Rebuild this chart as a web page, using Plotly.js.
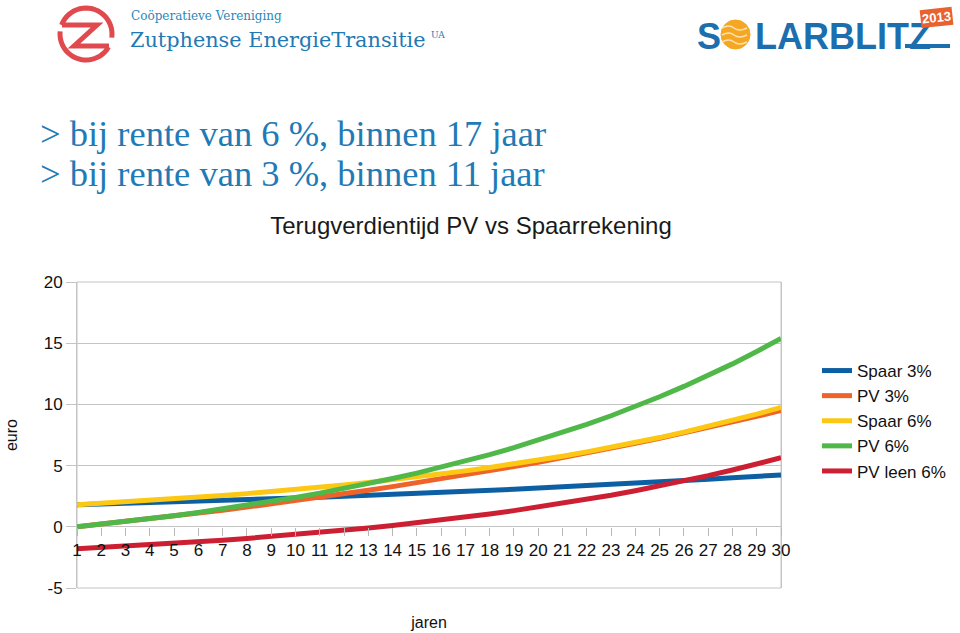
<!DOCTYPE html>
<html>
<head>
<meta charset="utf-8">
<script src="https://cdn.plot.ly/plotly-3.0.1.min.js"></script>
<style>html,body{margin:0;padding:0;background:#fff;}#chart{width:960px;height:633px;}</style>
</head>
<body>
<div id="chart"></div>
<script>
const years = [1,2,3,4,5,6,7,8,9,10,11,12,13,14,15,16,17,18,19,20,21,22,23,24,25,26,27,28,29,30];
const seriesNames = ['Spaar 3%','PV 3%','Spaar 6%','PV 6%','PV leen 6%'];
const spaar3 = [1.80,1.85,1.91,1.97,2.03,2.09,2.15,2.21,2.28,2.35,2.42,2.49,2.57,2.64,2.72,2.80,2.89,2.98,3.06,3.16,3.25,3.35,3.45,3.55,3.66,3.77,3.88,4.00,4.12,4.24];
const pv3 = [0,0.21,0.43,0.65,0.88,1.12,1.36,1.61,1.87,2.13,2.41,2.69,2.98,3.28,3.59,3.91,4.23,4.57,4.92,5.28,5.64,6.02,6.41,6.82,7.23,7.66,8.10,8.55,9.02,9.50];
const spaar6 = [1.80,1.91,2.02,2.14,2.27,2.41,2.55,2.71,2.87,3.04,3.22,3.42,3.62,3.84,4.07,4.31,4.57,4.85,5.14,5.45,5.77,6.12,6.49,6.88,7.29,7.73,8.19,8.68,9.20,9.75];
const pv6 = [0,0.21,0.43,0.67,0.91,1.18,1.46,1.75,2.07,2.40,2.75,3.13,3.53,3.95,4.39,4.86,5.37,5.90,6.46,7.06,7.69,8.36,9.07,9.82,10.62,11.47,12.36,13.31,14.32,15.39];
const pvLeen6 = [-1.80,-1.70,-1.59,-1.48,-1.36,-1.23,-1.10,-0.95,-0.80,-0.64,-0.47,-0.29,-0.10,0.11,0.32,0.55,0.79,1.05,1.32,1.61,1.92,2.24,2.58,2.95,3.33,3.74,4.18,4.64,5.12,5.64];
const yTicks = [-5,0,5,10,15,20];

const seriesValues = [spaar3, pv3, spaar6, pv6, pvLeen6];
const colors = ['#0d5fa3','#ef6229','#fcc814','#4fb848','#cd1f32'];

const traces = seriesValues.map((vals, i) => ({
  type: 'scatter', mode: 'lines', name: seriesNames[i],
  x: years, y: vals,
  line: {color: colors[i], width: 5}
}));

// plot area in pixels
const PL = 77, PR = 781, PT = 282, PB = 588;
const px = x => (x - PL) / (PR - PL);
const py = y => (PB - y) / (PB - PT);

const blue = '#1f7bb6';
function note(text, x, y, xanchor, font, extra) {
  return Object.assign({text: text, x: px(x), y: py(y), xref: 'paper', yref: 'paper',
    xanchor: xanchor, yanchor: 'middle', showarrow: false, font: font}, extra || {});
}
const annotations = [
  note('> bij rente van 6 %, binnen 17 jaar', 38, 134, 'left', {family: 'Liberation Serif', size: 36.5, color: blue}),
  note('> bij rente van 3 %, binnen 11 jaar', 38, 173, 'left', {family: 'Liberation Serif', size: 36.5, color: blue}),
  note('Coöperatieve Vereniging', 129, 16, 'left', {family: 'DejaVu Serif', size: 12, color: '#2b87b9'}),
  note('Zutphense EnergieTransitie', 128, 40, 'left', {family: 'DejaVu Serif', size: 20.8, color: '#1f7ab3'}),
  note('UA', 429, 35, 'left', {family: 'DejaVu Serif', size: 9, color: '#1f7ab3'}),
  note('<b>S</b>', 695, 36, 'left', {family: 'Liberation Sans', size: 36, color: '#1c6fae'}),
  note('<b>LARBLITZ</b>', 753, 36, 'left', {family: 'Liberation Sans', size: 36, color: '#1c6fae'}),
  note('<b>2013</b>', 936, 17, 'center', {family: 'Liberation Sans', size: 13, color: '#ffffff'},
       {textangle: -6, bgcolor: '#e8622f', borderpad: 1})
];

// decorative logo geometry (pixel space -> paper)
function arc(cx, cy, r, a0, a1) {
  const pts = [];
  const n = 24;
  for (let k = 0; k <= n; k++) {
    const a = (a0 + (a1 - a0) * k / n) * Math.PI / 180;
    pts.push((k ? 'L ' : 'M ') + px(cx + r * Math.cos(a)) + ' ' + py(cy + r * Math.sin(a)));
  }
  return pts.join(' ');
}
const zRed = '#e04a4f';
function wave(y) {
  return `M ${px(722)} ${py(y)} Q ${px(729)} ${py(y - 4)} ${px(734)} ${py(y)} T ${px(747)} ${py(y)}`;
}
const shapes = [
  {type: 'rect', xref: 'paper', yref: 'paper', x0: 0, x1: 1, y0: 0, y1: 1,
   line: {color: '#c4c4c4', width: 1}, layer: 'below'},
  {type: 'path', xref: 'paper', yref: 'paper', path: arc(86, 34, 26, 200, 368), line: {color: zRed, width: 5}},
  {type: 'path', xref: 'paper', yref: 'paper', path: arc(86, 34, 26, 30, 186), line: {color: zRed, width: 5}},
  {type: 'path', xref: 'paper', yref: 'paper',
   path: `M ${px(62)} ${py(25)} L ${px(97)} ${py(25)} L ${px(74)} ${py(46)} L ${px(109)} ${py(46)}`,
   line: {color: zRed, width: 5}},
  {type: 'circle', xref: 'paper', yref: 'paper', x0: px(721), x1: px(750), y0: py(49), y1: py(20),
   fillcolor: '#f5a623', line: {color: '#f5a623', width: 1}},
  {type: 'path', xref: 'paper', yref: 'paper', path: wave(28), line: {color: '#fde3b0', width: 1.5}},
  {type: 'path', xref: 'paper', yref: 'paper', path: wave(35), line: {color: '#fde3b0', width: 1.5}},
  {type: 'path', xref: 'paper', yref: 'paper', path: wave(42), line: {color: '#fde3b0', width: 1.5}},
  {type: 'line', xref: 'paper', yref: 'paper', x0: px(905), x1: px(950), y0: py(46), y1: py(46),
   line: {color: '#1c6fae', width: 4}}
];

const layout = {
  width: 960, height: 633,
  margin: {l: PL, r: 960 - PR, t: PT, b: 633 - PB, pad: 0},
  paper_bgcolor: '#ffffff', plot_bgcolor: '#ffffff',
  font: {family: 'Liberation Sans', color: '#111'},
  title: {text: 'Terugverdientijd PV vs Spaarrekening', x: 471 / 960, xref: 'container', xanchor: 'center',
          y: 1 - 226 / 633, yref: 'container', yanchor: 'middle',
          font: {family: 'Liberation Sans', size: 24, color: '#1a1a1a'}},
  xaxis: {range: [1, 30], tickmode: 'array', tickvals: years, ticktext: years.map(String),
          anchor: 'free', position: 0.2, ticks: 'outside', ticklen: 8, tickcolor: '#b8b8b8',
          showgrid: false, zeroline: false, showline: false,
          tickfont: {family: 'Liberation Sans', size: 17, color: '#111'},
          title: {text: 'jaren', standoff: 57, font: {family: 'Liberation Sans', size: 16, color: '#111'}}},
  yaxis: {range: [-5, 20], tickmode: 'array', tickvals: yTicks, ticktext: yTicks.map(String),
          ticks: 'outside', ticklen: 10, tickcolor: '#c4c4c4',
          showgrid: true, gridcolor: '#c4c4c4', gridwidth: 1, zeroline: false,
          showline: true, linecolor: '#c4c4c4', mirror: true,
          tickfont: {family: 'Liberation Sans', size: 17, color: '#111'},
          title: {text: 'euro', standoff: 22, font: {family: 'Liberation Sans', size: 16, color: '#111'}}},
  legend: {x: 817 / 960, xref: 'container', xanchor: 'left', y: 1 - 353 / 633, yref: 'container', yanchor: 'top',
           font: {family: 'Liberation Sans', size: 17, color: '#111'}, bgcolor: 'rgba(0,0,0,0)',
           itemwidth: 30, tracegroupgap: 0},
  showlegend: true,
  annotations: annotations,
  shapes: shapes
};

Plotly.newPlot('chart', traces, layout, {displayModeBar: false, staticPlot: true});
</script>
</body>
</html>
